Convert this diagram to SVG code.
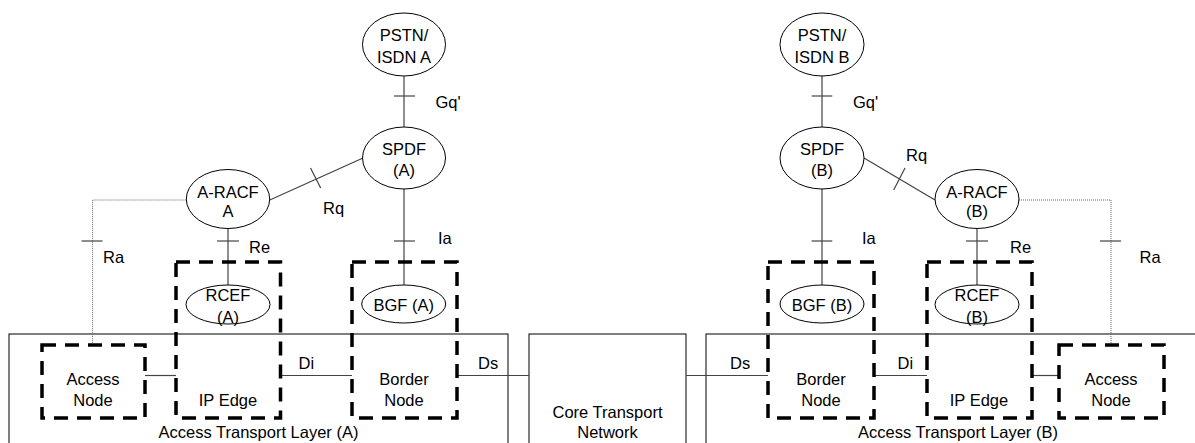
<svg xmlns="http://www.w3.org/2000/svg" width="1195" height="443" viewBox="0 0 1195 443">
<style>
text{font-family:"Liberation Sans",Arial,sans-serif;font-size:16.5px;fill:#000}
.c{text-anchor:middle}
.el{fill:#fff;stroke:#000;stroke-width:1}
.box{fill:none;stroke:#000;stroke-width:1}
.dash{fill:none;stroke:#000;stroke-width:3.5;stroke-dasharray:14 9}
.ln{fill:none;stroke:#444;stroke-width:1.2}
.dot{fill:none;stroke:#666;stroke-width:1;stroke-dasharray:1 1}
</style>
<rect width="1195" height="443" fill="#fff"/>
<g id="atl-a"><rect class="box" x="9" y="334" width="499" height="130"/><text class="c" x="258.5" y="438">Access Transport Layer (A)</text></g>
<g id="core"><rect class="box" x="529" y="334" width="157" height="130"/><text class="c" x="607.5" y="417.5">Core Transport</text><text class="c" x="607.5" y="437.5">Network</text></g>
<g id="atl-b"><rect class="box" x="706" y="334" width="504" height="130"/><text class="c" x="958" y="438">Access Transport Layer (B)</text></g>
<g id="connectors">
<line class="ln" x1="404" y1="76" x2="404" y2="127"/><line class="ln" x1="394" y1="96" x2="415" y2="96"/>
<line class="ln" x1="404" y1="189" x2="404" y2="285"/><line class="ln" x1="394" y1="241" x2="415" y2="241"/>
<line class="ln" x1="228" y1="228" x2="228" y2="285"/><line class="ln" x1="217" y1="241" x2="239" y2="241"/>
<line class="ln" x1="269.8" y1="200" x2="363" y2="158"/><line class="ln" x1="310.5" y1="168" x2="320.7" y2="188"/>
<polyline class="dot" points="186.4,200 92.6,200 92.6,343"/><line class="ln" x1="81.5" y1="241" x2="102.6" y2="241"/>
<line class="ln" x1="145" y1="375.5" x2="176" y2="375.5"/>
<line class="ln" x1="280.5" y1="375.5" x2="352" y2="375.5"/>
<line class="ln" x1="457" y1="375.5" x2="529" y2="375.5"/>
<line class="ln" x1="822" y1="76" x2="822" y2="127"/><line class="ln" x1="811.6" y1="96" x2="832.3" y2="96"/>
<line class="ln" x1="822" y1="189" x2="822" y2="285"/><line class="ln" x1="811.6" y1="241" x2="832.3" y2="241"/>
<line class="ln" x1="977" y1="228" x2="977" y2="285"/><line class="ln" x1="966" y1="241" x2="988" y2="241"/>
<line class="ln" x1="864" y1="158" x2="935" y2="200"/><line class="ln" x1="905" y1="168" x2="893.7" y2="190"/>
<polyline class="dot" points="1019,200 1111,200 1111,343"/><line class="ln" x1="1100" y1="241" x2="1121" y2="241"/>
<line class="ln" x1="686" y1="375.5" x2="768" y2="375.5"/>
<line class="ln" x1="874" y1="375.5" x2="927" y2="375.5"/>
<line class="ln" x1="1032" y1="375.5" x2="1059" y2="375.5"/>
<text x="435.5" y="108">Gq'</text><text x="853" y="108">Gq'</text>
<text x="323" y="214">Rq</text><text x="906" y="161">Rq</text>
<text x="103" y="263">Ra</text><text x="1139.5" y="263">Ra</text>
<text x="249" y="253">Re</text><text x="1010" y="253">Re</text>
<text x="438" y="244">Ia</text><text x="862" y="244">Ia</text>
<text x="298.5" y="369">Di</text><text x="897.5" y="369">Di</text>
<text x="478" y="369">Ds</text><text x="730" y="369">Ds</text>
</g>
<g id="pstn-a"><ellipse class="el" cx="404" cy="44.5" rx="41.5" ry="31.5"/><text class="c" x="404" y="41">PSTN/</text><text class="c" x="404" y="62.5">ISDN A</text></g>
<g id="spdf-a"><ellipse class="el" cx="404" cy="158" rx="41.5" ry="31"/><text class="c" x="404" y="155">SPDF</text><text class="c" x="404" y="176">(A)</text></g>
<g id="aracf-a"><ellipse class="el" cx="228" cy="199" rx="41.7" ry="29.5"/><text class="c" x="228" y="197.5">A-RACF</text><text class="c" x="228" y="216.5">A</text></g>
<g id="rcef-a"><ellipse class="el" cx="228" cy="304.5" rx="42" ry="19.5"/><text class="c" x="228" y="301">RCEF</text><text class="c" x="228" y="322.5">(A)</text></g>
<g id="bgf-a"><ellipse class="el" cx="403.7" cy="304" rx="42" ry="19"/><text class="c" x="403.7" y="311">BGF (A)</text></g>
<g id="access-node-a"><rect class="dash" x="42" y="345" width="103" height="73"/><text class="c" x="93" y="385">Access</text><text class="c" x="93" y="405.5">Node</text></g>
<g id="ip-edge-a"><rect class="dash" x="176" y="262" width="104.5" height="156"/><text class="c" x="228" y="406">IP Edge</text></g>
<g id="border-node-a"><rect class="dash" x="352" y="262" width="105" height="156"/><text class="c" x="404" y="385">Border</text><text class="c" x="404" y="405.5">Node</text></g>
<g id="pstn-b"><ellipse class="el" cx="822" cy="44.5" rx="42" ry="31.5"/><text class="c" x="822" y="41">PSTN/</text><text class="c" x="822" y="62.5">ISDN B</text></g>
<g id="spdf-b"><ellipse class="el" cx="822" cy="158" rx="42" ry="31"/><text class="c" x="822" y="155">SPDF</text><text class="c" x="822" y="176">(B)</text></g>
<g id="aracf-b"><ellipse class="el" cx="977" cy="199" rx="42" ry="29.5"/><text class="c" x="977" y="197.5">A-RACF</text><text class="c" x="977" y="216.5">(B)</text></g>
<g id="rcef-b"><ellipse class="el" cx="977" cy="304.5" rx="42" ry="19.5"/><text class="c" x="977" y="301">RCEF</text><text class="c" x="977" y="322.5">(B)</text></g>
<g id="bgf-b"><ellipse class="el" cx="822" cy="304" rx="42" ry="19"/><text class="c" x="822" y="311">BGF (B)</text></g>
<g id="border-node-b"><rect class="dash" x="768" y="262" width="106" height="156"/><text class="c" x="821" y="385">Border</text><text class="c" x="821" y="405.5">Node</text></g>
<g id="ip-edge-b"><rect class="dash" x="927" y="262" width="105" height="156"/><text class="c" x="979" y="406">IP Edge</text></g>
<g id="access-node-b"><rect class="dash" x="1059" y="345" width="105" height="73"/><text class="c" x="1111" y="385">Access</text><text class="c" x="1111" y="405.5">Node</text></g>
</svg>
